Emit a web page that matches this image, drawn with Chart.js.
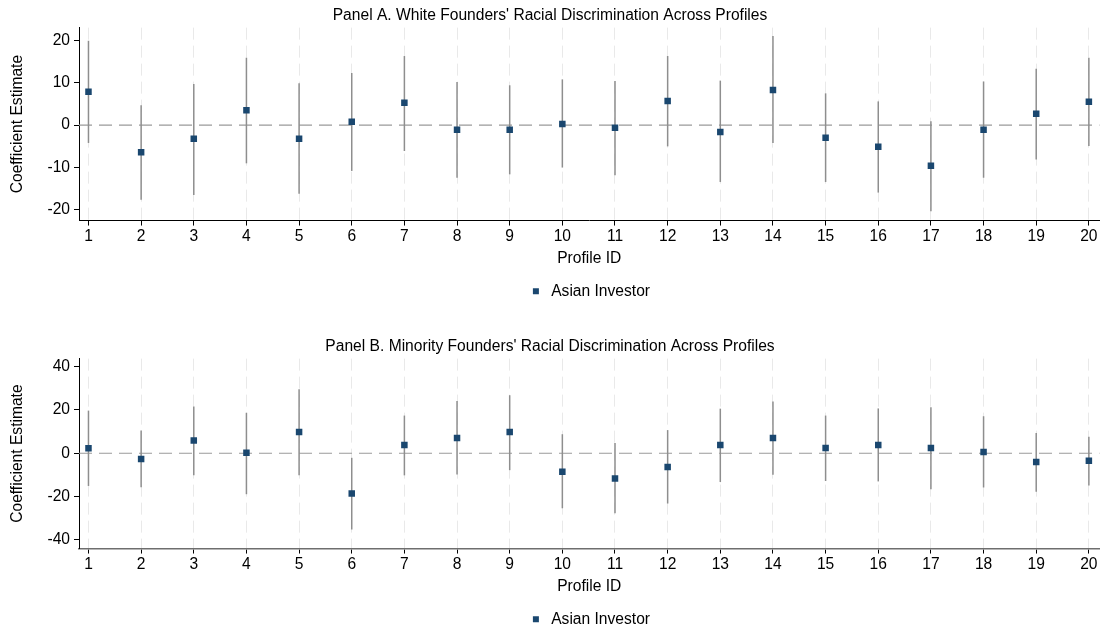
<!DOCTYPE html>
<html>
<head>
<meta charset="utf-8">
<script src="https://cdn.jsdelivr.net/npm/chart.js@4"></script>
<style>
  html, body { margin: 0; padding: 0; background: #fff; }
  body { width: 1104px; height: 628px; position: relative; overflow: hidden; }
  canvas { position: absolute; left: 0; }
  #panelA { top: 0; }
  #panelB { top: 331px; }
</style>
</head>
<body>
<canvas id="panelA" width="1104" height="309"></canvas>
<canvas id="panelB" width="1104" height="306"></canvas>
<script>
// ---------------------------------------------------------------------------
// Data
// ---------------------------------------------------------------------------
const profiles = [1, 2, 3, 4, 5, 6, 7, 8, 9, 10, 11, 12, 13, 14, 15, 16, 17, 18, 19, 20];

const whiteCoef = [7.9, -6.4, -3.2, 3.5, -3.2, 0.8, 5.3, -1.1, -1.1, 0.3, -0.6, 5.7, -1.6, 8.3, -3.0, -5.1, -9.6, -1.1, 2.7, 5.5];
const whiteLow  = [-4.2, -17.6, -16.5, -9.0, -16.2, -10.8, -6.1, -12.4, -11.6, -10.0, -11.8, -5.0, -13.4, -4.2, -13.4, -15.9, -20.3, -12.4, -8.1, -4.9];
const whiteHigh = [19.9, 4.7, 9.7, 15.9, 9.9, 12.3, 16.3, 10.2, 9.4, 10.8, 10.4, 16.3, 10.5, 21.0, 7.5, 5.6, 0.9, 10.3, 13.3, 15.9];

const minorityCoef = [2.3, -2.6, 5.9, 0.2, 9.8, -18.6, 3.8, 7.0, 9.8, -8.5, -11.7, -6.3, 3.8, 7.0, 2.4, 3.8, 2.4, 0.6, -4.0, -3.5];
const minorityLow  = [-15.1, -15.7, -10.1, -18.9, -10.1, -35.2, -10.2, -9.8, -7.8, -25.4, -27.7, -23.2, -13.3, -9.9, -12.8, -13.0, -16.6, -15.8, -17.8, -14.9];
const minorityHigh = [19.7, 10.5, 21.6, 18.7, 29.6, -2.1, 17.4, 24.1, 26.8, 8.8, 4.7, 10.7, 20.6, 23.9, 17.4, 20.7, 21.3, 17.1, 9.4, 7.6];

const whiteTicks = [-20, -10, 0, 10, 20];
const minorityTicks = [-40, -20, 0, 20, 40];

const FONT = "'Liberation Sans', Arial, Helvetica, sans-serif";
const FS = 15.6;
const NAVY = '#1a476f';

Chart.defaults.font.family = FONT;
Chart.defaults.font.size = FS;
Chart.defaults.color = '#000';

// ---------------------------------------------------------------------------
// Plugin: CI whiskers + dashed zero reference line
// ---------------------------------------------------------------------------
const ciPlugin = {
  id: 'ciBars',
  beforeDatasetsDraw(chart) {
    const { ctx, chartArea, scales: { x, y } } = chart;
    const opts = chart.options.plugins.ciBars;

    ctx.save();
    // zero line
    const y0 = y.getPixelForValue(0);
    ctx.strokeStyle = '#9a9a9a';
    ctx.lineWidth = 1.2;
    ctx.setLineDash([13, 7]);
    ctx.beginPath();
    ctx.moveTo(chartArea.left, y0);
    ctx.lineTo(chartArea.right, y0);
    ctx.stroke();

    // whiskers
    ctx.setLineDash([]);
    ctx.strokeStyle = '#8e8e8e';
    ctx.lineWidth = 1.5;
    opts.x.forEach((xv, i) => {
      const px = x.getPixelForValue(xv);
      ctx.beginPath();
      ctx.moveTo(px, y.getPixelForValue(opts.low[i]));
      ctx.lineTo(px, y.getPixelForValue(opts.high[i]));
      ctx.stroke();
    });
    ctx.restore();
  }
};

function makePanel(canvasId, title, coef, low, high, yTicks, yMin, yMax, bottomBorder) {
  return new Chart(document.getElementById(canvasId), {
    type: 'scatter',
    data: {
      datasets: [{
        label: 'Asian Investor',
        data: profiles.map((p, i) => ({ x: p, y: coef[i] })),
        pointStyle: 'rect',
        pointRadius: 4.6,
        pointHoverRadius: 4.6,
        backgroundColor: NAVY,
        borderColor: NAVY,
        borderWidth: 0
      }]
    },
    plugins: [ciPlugin],
    options: {
      responsive: false,
      animation: false,
      devicePixelRatio: 1,
      layout: { padding: { left: 0, right: 4, top: 0, bottom: 0 } },
      scales: {
        x: {
          type: 'linear',
          min: 0.82,
          max: 20.2,
          afterBuildTicks: (scale) => { scale.ticks = profiles.map(v => ({ value: v })); },
          ticks: { padding: 1.8, autoSkip: false, maxRotation: 0 },
          grid: {
            color: '#e9e9e9',
            lineWidth: 1,
            tickColor: '#000',
            tickBorderDash: [],
            tickLength: 5
          },
          border: { display: true, color: bottomBorder.color, width: bottomBorder.width, dash: [12, 6] },
          title: { display: true, text: 'Profile ID', padding: { top: 1.8, bottom: 0 } }
        },
        y: {
          min: yMin,
          max: yMax,
          afterBuildTicks: (scale) => { scale.ticks = yTicks.map(v => ({ value: v })); },
          afterFit: (scale) => { scale.width = 79; },
          ticks: { padding: 4 },
          grid: { drawOnChartArea: false, drawTicks: true, tickLength: 5, tickColor: '#000' },
          border: { display: true, color: '#000', width: 1 },
          title: { display: true, text: 'Coefficient Estimate', padding: { top: 8, bottom: 0 } }
        }
      },
      plugins: {
        title: { display: true, text: title, font: { size: FS, weight: 'normal' }, color: '#000', padding: { top: 6, bottom: 2.9 } },
        legend: {
          display: true,
          position: 'bottom',
          fullSize: false,
          labels: { usePointStyle: true, boxWidth: 15, boxHeight: 6, padding: 15, color: '#000' }
        },
        tooltip: { enabled: false },
        ciBars: { x: profiles, low, high }
      }
    }
  });
}

makePanel('panelA', "Panel A. White Founders' Racial Discrimination Across Profiles",
  whiteCoef, whiteLow, whiteHigh, whiteTicks, -22.5, 23, { color: '#000', width: 1 });

makePanel('panelB', "Panel B. Minority Founders' Racial Discrimination Across Profiles",
  minorityCoef, minorityLow, minorityHigh, minorityTicks, -44, 43.7, { color: '#6e6e6e', width: 1.5 });
</script>
</body>
</html>
